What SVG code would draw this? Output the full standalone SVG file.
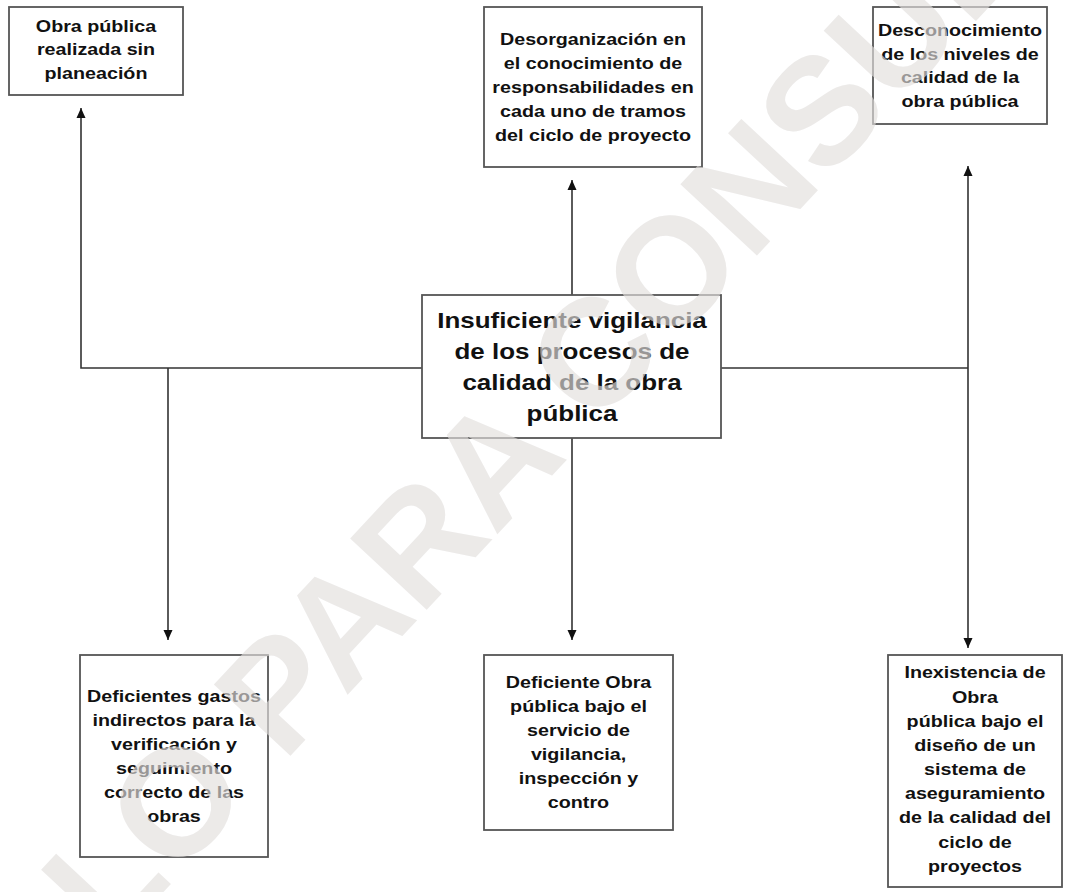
<svg xmlns="http://www.w3.org/2000/svg" width="1078" height="892" viewBox="0 0 1078 892">
<defs>
<style>
.box{fill:#ffffff;stroke:#555555;stroke-width:1.8}
.t{font-family:"Liberation Sans",Arial,sans-serif;font-weight:bold;font-size:16.7px;fill:#111111;text-anchor:middle}
.tc{font-family:"Liberation Sans",Arial,sans-serif;font-weight:bold;font-size:22px;fill:#111111;text-anchor:middle}
.ln{fill:none;stroke:#333333;stroke-width:1.6}
.wm{font-family:"Liberation Sans",Arial,sans-serif;font-weight:bold;font-size:152px;fill:#e2dfdd;opacity:0.65;text-anchor:middle}
</style>
<marker id="arr" viewBox="0 0 10 10" refX="10" refY="5" markerWidth="11" markerHeight="10" markerUnits="userSpaceOnUse" orient="auto-start-reverse">
<path d="M0,0.5 L10,5 L0,9.5 z" fill="#111111"/>
</marker>
</defs>
<rect width="1078" height="892" fill="#ffffff"/>
<g id="connectors">
<path class="ln" d="M422,368 H81 V108" marker-end="url(#arr)"/>
<path class="ln" d="M168,368 V640" marker-end="url(#arr)"/>
<path class="ln" d="M572,295 V180" marker-end="url(#arr)"/>
<path class="ln" d="M572,438 V640" marker-end="url(#arr)"/>
<path class="ln" d="M721,368 H968"/>
<path class="ln" d="M968,166 V648" marker-start="url(#arr)" marker-end="url(#arr)"/>
</g>
<g id="n1">
<rect class="box" x="9" y="7" width="174" height="88"/>
<g transform="translate(96 0) scale(1.18 1)">
<text class="t" x="0" y="32">Obra pública</text>
<text class="t" x="0" y="55.5">realizada sin</text>
<text class="t" x="0" y="79">planeación</text>
</g>
</g>
<g id="n2">
<rect class="box" x="484" y="7" width="218" height="160"/>
<g transform="translate(593 0) scale(1.18 1)">
<text class="t" x="0" y="45">Desorganización en</text>
<text class="t" x="0" y="69">el conocimiento de</text>
<text class="t" x="0" y="93">responsabilidades en</text>
<text class="t" x="0" y="117">cada uno de tramos</text>
<text class="t" x="0" y="141">del ciclo de proyecto</text>
</g>
</g>
<g id="n3">
<rect class="box" x="873" y="7" width="174" height="117"/>
<g transform="translate(960 0) scale(1.18 1)">
<text class="t" x="0" y="36">Desconocimiento</text>
<text class="t" x="0" y="60">de los niveles de</text>
<text class="t" x="0" y="83.5">calidad de la</text>
<text class="t" x="0" y="107">obra pública</text>
</g>
</g>
<g id="n0">
<rect class="box" x="422" y="295" width="299" height="143"/>
<g transform="translate(572 0) scale(1.18 1)">
<text class="tc" x="0" y="328">Insuficiente vigilancia</text>
<text class="tc" x="0" y="359.5">de los procesos de</text>
<text class="tc" x="0" y="390.5">calidad de la obra</text>
<text class="tc" x="0" y="421">pública</text>
</g>
</g>
<g id="n4">
<rect class="box" x="80" y="655" width="188" height="202"/>
<g transform="translate(174 0) scale(1.18 1)">
<text class="t" x="0" y="702">Deficientes gastos</text>
<text class="t" x="0" y="726">indirectos para la</text>
<text class="t" x="0" y="750">verificación y</text>
<text class="t" x="0" y="774">seguimiento</text>
<text class="t" x="0" y="798">correcto de las</text>
<text class="t" x="0" y="822">obras</text>
</g>
</g>
<g id="n5">
<rect class="box" x="484" y="655" width="189" height="175"/>
<g transform="translate(578.5 0) scale(1.18 1)">
<text class="t" x="0" y="688.5">Deficiente Obra</text>
<text class="t" x="0" y="712.5">pública bajo el</text>
<text class="t" x="0" y="736.5">servicio de</text>
<text class="t" x="0" y="760.5">vigilancia,</text>
<text class="t" x="0" y="784.5">inspección y</text>
<text class="t" x="0" y="808.5">contro</text>
</g>
</g>
<g id="n6">
<rect class="box" x="888" y="655" width="174" height="232"/>
<g transform="translate(975 0) scale(1.18 1)">
<text class="t" x="0" y="678">Inexistencia de</text>
<text class="t" x="0" y="703">Obra</text>
<text class="t" x="0" y="727">pública bajo el</text>
<text class="t" x="0" y="751">diseño de un</text>
<text class="t" x="0" y="775">sistema de</text>
<text class="t" x="0" y="799">aseguramiento</text>
<text class="t" x="0" y="823">de la calidad del</text>
<text class="t" x="0" y="848">ciclo de</text>
<text class="t" x="0" y="872">proyectos</text>
</g>
</g>
<g id="watermark">
<text class="wm" x="558" y="469" transform="rotate(-47 558 469)">SOLO PARA CONSULTA</text>
</g>
</svg>
